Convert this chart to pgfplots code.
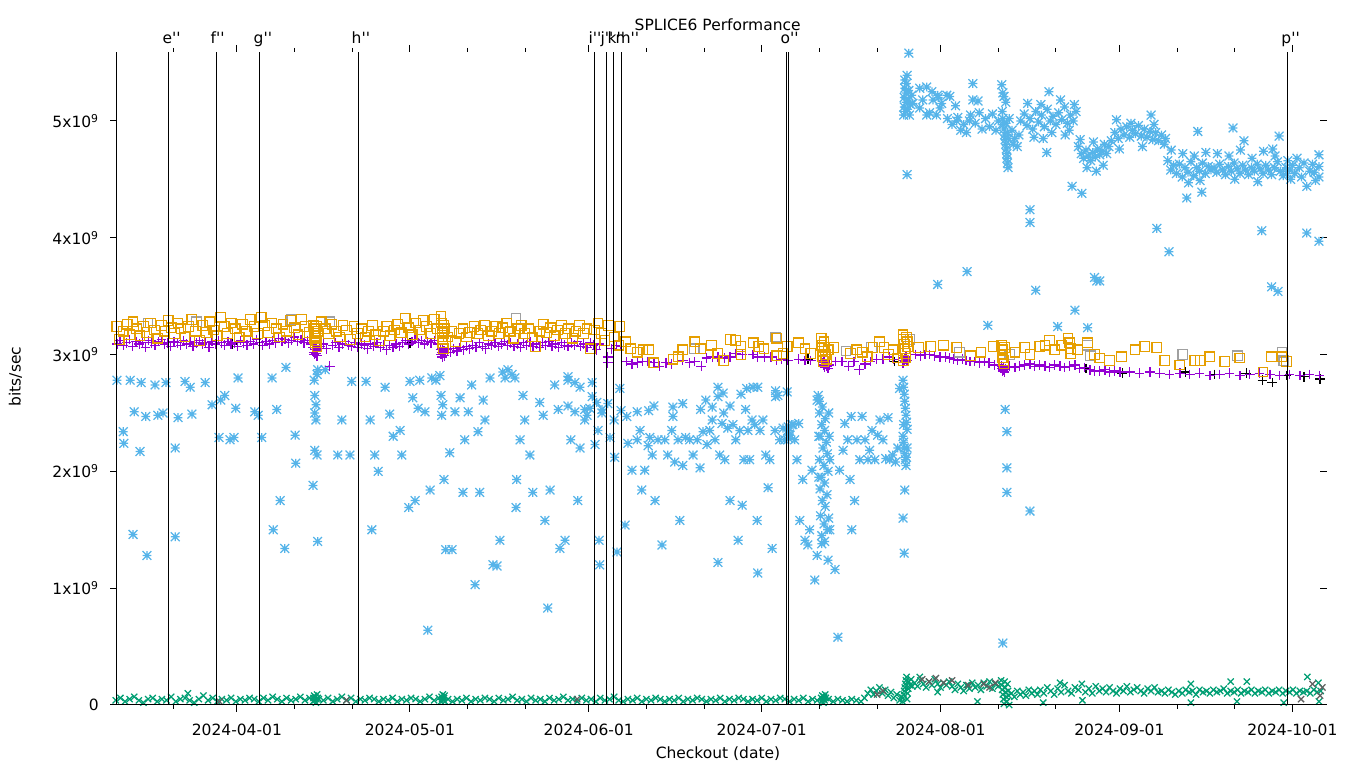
\documentclass[border=0pt]{standalone}
\usepackage{pgfplots}
\pgfplotsset{compat=1.18}
\usepackage{fontspec}
\setmainfont{DejaVu Sans}[Ligatures=TeXOff]
\definecolor{gporange}{HTML}{E69F00}
\definecolor{gppurple}{HTML}{9400D3}
\definecolor{gpblue}{HTML}{56B4E9}
\definecolor{gpgreen}{HTML}{009E73}
\definecolor{gpgray}{HTML}{A0A0A0}
\definecolor{gpdgray}{HTML}{606060}
\pgfdeclareplotmark{star8}{%
  \pgfpathmoveto{\pgfqpoint{-\pgfplotmarksize}{0pt}}\pgfpathlineto{\pgfqpoint{\pgfplotmarksize}{0pt}}%
  \pgfpathmoveto{\pgfqpoint{0pt}{-\pgfplotmarksize}}\pgfpathlineto{\pgfqpoint{0pt}{\pgfplotmarksize}}%
  \pgfpathmoveto{\pgfqpoint{-\pgfplotmarksize}{-\pgfplotmarksize}}\pgfpathlineto{\pgfqpoint{\pgfplotmarksize}{\pgfplotmarksize}}%
  \pgfpathmoveto{\pgfqpoint{-\pgfplotmarksize}{\pgfplotmarksize}}\pgfpathlineto{\pgfqpoint{\pgfplotmarksize}{-\pgfplotmarksize}}%
  \pgfusepathqstroke}
\begin{document}
\fontsize{15.5}{18}\selectfont
\begin{tikzpicture}[x=1pt,y=1pt]
\useasboundingbox (0,0) rectangle (1360,768);
\begin{axis}[
  at={(110pt,63pt)}, anchor=south west,
  scale only axis, width=1217pt, height=653pt,
  xmin=69, xmax=280, ymin=0, ymax=5.59,
  axis line style={draw=none},
  xtick={91,121,152,182,213,244,274},
  xticklabels={2024-04-01,2024-05-01,2024-06-01,2024-07-01,2024-08-01,2024-09-01,2024-10-01},
  minor xtick={80,101,111,131,141,162,172,192,202,223,233,254,264},
  ytick={0,1,2,3,4,5},
  yticklabels={0,{1x10\textsuperscript{9}},{2x10\textsuperscript{9}},{3x10\textsuperscript{9}},{4x10\textsuperscript{9}},{5x10\textsuperscript{9}}},
  xtick align=outside, ytick align=inside,
  major tick length=7pt, minor tick length=4pt,
  every tick/.style={black, line width=1pt},
  tick label style={font=\fontsize{15.5}{18}\selectfont},
  xticklabel style={yshift=-7pt},
  yticklabel style={xshift=-6pt},
  clip mode=individual,
  every axis plot/.append style={only marks, line width=1.25pt},
]
% light blue asterisks
\addplot[gpblue, mark=star8, mark size=4.4pt] coordinates {
(70.2,2.78)(71.3,2.34)(71.4,2.24)(72.5,2.78)(73,1.46)(73.2,2.51)(74.2,2.17)(74.4,2.76)(75.4,1.28)(75.2,2.47)
(76.8,2.74)(77.3,2.48)(78.2,2.5)(78.7,2.76)(80.3,1.44)(80.3,2.2)(80.8,2.46)(82,2.77)(82.9,2.72)(83.2,2.49)
(85.5,2.76)(86.7,2.57)(87.9,2.29)(88.2,2.61)(88.9,2.65)(89.8,2.27)(90.5,2.29)(91.2,2.8)(90.8,2.54)(94.1,2.51)
(94.7,2.48)(95.3,2.29)(97.1,2.8)(97.3,1.5)(97.9,2.53)(98.5,1.75)(99.3,1.34)(99.5,2.89)(101.1,2.31)(101.2,2.07)
(104.2,1.88)(104.5,2.18)(104.5,2.5)(104.7,2.44)(104.9,2.83)(105,1.4)(104.4,2.78)(104.7,2.57)(104.9,2.14)(104.5,2.65)
(105,2.87)(106.3,2.87)(108.5,2.14)(109.2,2.44)(110.6,2.14)(110.9,2.77)(113.4,2.77)(114.1,2.44)(114.4,1.5)(114.9,2.14)
(115.5,2.0)(116.7,2.72)(117.5,2.49)(118.1,2.3)(119.3,2.35)(119.6,2.14)(121,2.77)(120.8,1.69)(121.5,2.63)(121.9,1.75)
(122.4,2.54)(122.7,2.78)(123.6,2.51)(124.1,0.64)(124.5,1.84)(124.8,2.8)(125.5,2.78)(126.2,2.82)(126.4,2.65)(126.5,2.48)
(126.7,2.57)(126.9,1.93)(127.2,1.33)(127.9,2.16)(128.3,1.33)(128.8,2.51)(129.7,2.63)(130.2,1.82)(130.5,2.27)(131.1,2.51)
(131.7,2.74)(132.3,1.03)(132.8,2.34)(133.1,1.82)(133.7,2.61)(134,2.44)(134.9,2.8)(135.4,1.2)(136.1,1.19)(136.6,1.41)
(137.1,2.85)(137.5,2.8)(138,2.87)(138.7,2.83)(139.2,2.8)(139.5,1.93)(139.4,1.69)(140.1,2.27)(140.6,2.65)(140.9,2.44)
(141.8,2.14)(142.3,1.82)(143.5,2.59)(144.1,2.48)(144.4,1.58)(144.9,0.83)(145.3,1.84)(146.1,2.74)(146.7,2.53)(147,1.34)
(147.9,1.41)(148.4,2.78)(148.9,2.27)(149.6,2.51)(150.1,1.75)(150.5,2.2)(151.3,2.44)(151.7,2.48)(152.2,2.54)(153.1,2.23)
(153.6,2.35)(153.8,1.41)(153.9,1.2)(154.3,2.53)
(148.4,2.81)(149.6,2.76)(150.5,2.72)(152.6,2.76)(152.6,2.64)(153.4,2.59)(148.4,2.56)(151.3,2.53)(155.3,2.58)(154.3,2.5)
(157.4,2.71)(156.4,2.44)(158.6,2.47)(160.4,2.51)(162.4,2.52)(163.3,2.56)(166.6,2.55)(166.6,2.47)(168.3,2.58)(171.4,2.53)
(172.3,2.61)(173.4,2.55)(174.4,2.72)(174.4,2.64)(175.3,2.67)(175.4,2.5)(176.5,2.56)(178.4,2.66)(179.4,2.71)(180.5,2.72)
(181.3,2.72)(184.4,2.69)(184.4,2.64)(186.4,2.68)(187.4,2.4)(188.4,2.41)(191.6,2.61)
(155.7,2.29)(156.5,2.12)(156.9,1.31)(157.6,2.52)(158.3,1.54)(158.8,2.24)(159.5,2.01)(160.4,2.27)(160.9,2.35)(161.2,1.84)
(161.7,2.01)(162.3,2.22)(162.6,2.29)(163,2.14)(163.5,1.75)(164,2.27)(164.7,1.37)(165.2,2.27)(165.7,2.14)(166.4,2.35)
(166.9,2.08)(167.5,2.27)(167.8,1.58)(168.3,2.05)(168.8,2.29)(169.5,2.27)(170.1,2.14)(170.8,2.27)(171.3,2.03)(171.8,2.34)
(172.5,2.23)(173,2.35)(173.4,2.44)(173.9,2.27)(174.4,1.22)(174.7,2.14)(175.1,2.41)(175.6,2.1)(176.1,2.37)(176.5,1.75)
(177,2.4)(177.5,2.27)(177.9,1.41)(178.2,2.35)(178.6,1.71)(178.9,2.1)(179.2,2.53)(179.6,2.35)(179.9,2.1)(180.3,2.44)
(180.8,2.4)(181.2,1.58)(181.3,1.13)(181.7,2.35)(182.2,2.44)(182.7,2.14)(183.1,1.86)(183.4,2.1)(183.8,1.34)(184.3,2.35)
(184.8,2.65)(185.1,2.27)(185.7,2.37)(186,2.27)(186.5,2.35)(186.9,2.31)(187.2,2.4)(187.7,2.27)(188.1,2.1)(188.6,1.58)
(189.1,1.93)(189.5,1.41)(190,1.37)(190.3,1.5)(190.7,2.01)(191.2,1.07)(191.6,1.28)(186.6,2.38)(186.8,2.32)(186.7,2.28)
(191.8,2.65)(192,2.6)(192.5,2.55)(192.0,2.5)(193.0,2.45)(192.4,2.4)(192.9,2.35)(192.1,2.3)(193.2,2.25)(192.6,2.2)
(193.4,2.15)(192.0,2.1)(192.8,2.05)(193.5,2.0)(192.3,1.95)(192.9,1.9)(192.1,1.85)(193.3,1.8)(192.5,1.75)(193.0,1.7)
(192.2,1.62)(192.8,1.55)(193.4,1.5)(192.4,1.45)(192.9,1.4)(193.6,2.5)(193.7,2.3)(193.8,2.1)(191.9,2.3)(191.9,1.95)
(193.6,1.6)(192.4,1.38)(193.5,1.24)(193.8,1.5)(194.7,1.16)(195.2,0.58)(195.5,2.01)(196.1,2.18)(196.9,2.27)(197.3,1.93)
(197.6,1.5)(198.1,1.75)(198.5,2.27)(199,2.1)(199.4,2.47)(199.9,2.27)(200.4,2.1)(200.7,2.18)(201.1,2.35)(201.6,2.1)
(202.1,2.31)(202.5,2.44)(203,2.27)(203.5,2.11)(204.2,2.1)(204.7,2.14)(205.2,2.08)(205.6,2.2)(196.4,2.41)(197.5,2.47)
(203.9,2.46)(205.9,2.71)
(206.5,2.78)(206.6,2.72)(206.7,2.66)(206.8,2.6)(206.9,2.54)(207,2.48)(207.1,2.42)(207.2,2.36)(206.5,2.3)(206.6,2.25)
(206.7,2.2)(206.8,2.15)(206.9,2.1)(207,2.05)(207.1,2.12)(207.2,2.2)(206.7,1.3)(206.5,1.6)(206.8,1.84)(206.6,2.4)
(206.6,5.05)(206.7,5.12)(206.7,5.2)(206.8,5.28)(206.8,5.35)(206.9,5.08)(207,5.16)(207,5.24)(207.1,5.32)(207.2,5.39)
(207.3,5.1)(207.4,5.18)(207.5,5.26)(207.6,5.05)(207.8,5.14)(208,5.22)(207.2,4.54)(207.5,5.58)
(209.4,5.28)(210.6,5.29)(211.5,5.25)(212.5,5.22)(213.2,5.15)(212.9,5.11)(214.1,5.22)(214.6,5.21)(208.2,5.15)(209.9,5.18)
(211.1,5.07)(212.3,5.05)(210.6,5.05)(209.4,5.11)(211.7,5.18)(212.6,5.2)(215.6,5.13)
(214.2,5.02)(215,4.97)(215.8,5.0)(216.5,4.92)(217,4.97)(217.5,4.9)(218,5.0)(216,5.03)
(218.6,5.32)(218.6,5.18)(219.5,5.17)
(218.2,5.05)(219,4.98)(219.7,5.07)(220.2,4.93)(220.8,5.02)(221.5,4.95)(222,5.06)(222.6,4.92)(223,5.0)
(223.6,5.31)(223.8,5.24)(224,5.21)(224.3,5.16)
(223.7,5.08)(223.8,5.02)(223.9,4.97)(224,4.93)(224.1,4.88)(224.2,4.84)(224.3,4.8)(224.4,4.76)(224.5,4.72)(224.5,4.68)
(224.6,4.64)(224.7,4.6)(224.4,4.98)(224.6,4.9)(224.8,4.85)(224.9,5.02)
(225.4,4.92)(225.8,4.85)(226.3,4.78)(226.6,4.88)(225.6,4.8)
(226.9,5.0)(227.5,5.06)(228,4.96)(228.5,5.02)(229,4.93)(229.5,5.08)(230,4.99)(230.5,5.05)(231,4.95)(231.5,5.1)
(232,5.0)(232.5,5.04)(233,4.97)(233.5,5.07)(234,5.01)(234.5,5.12)(235,4.98)(235.5,5.05)(236,5.0)(236.5,5.08)
(231.8,5.25)(230.4,5.14)(233.8,5.18)(236.2,5.14)(229.2,4.86)(232.3,4.9)(235.3,4.92)(228.1,5.15)(230.8,4.85)(234.6,4.88)
(228.5,4.24)(228.5,4.13)(231.4,4.73)(235.8,4.44)(237.5,4.38)
(236.9,4.78)(237.4,4.72)(237.8,4.68)(238.2,4.75)(238.6,4.7)(239,4.66)(239.4,4.73)(239.8,4.69)(240.2,4.76)(240.6,4.71)
(241,4.74)(241.4,4.8)(241.8,4.72)(242.2,4.78)(242.6,4.83)(238.4,4.6)(240,4.57)(241.2,4.62)(237.2,4.84)(239.5,4.82)
(243.5,5.01)
(243.2,4.9)(243.8,4.85)(244.3,4.93)(244.8,4.88)(245.3,4.95)(245.8,4.86)(246.3,4.92)(246.8,4.89)(247.3,4.96)(247.8,4.87)
(248.3,4.93)(248.8,4.86)(249.3,4.91)(249.8,4.84)(250.3,4.9)(250.8,4.83)(251.3,4.88)(251.8,4.8)(244,4.76)(246,4.98)
(248,4.78)(250,4.97)(252,4.85)
(249.5,5.05)(250.5,4.08)(252.6,3.88)(217.6,3.71)(239.7,3.66)
(252.4,4.66)(252.9,4.58)(253.4,4.62)(253.9,4.55)(254.4,4.63)(254.9,4.52)(255.4,4.6)(255.9,4.56)(256.4,4.65)(256.9,4.53)
(257.4,4.6)(257.9,4.57)(258.4,4.64)(258.9,4.55)(259.4,4.61)(259.9,4.58)(253,4.75)(255,4.72)(257,4.7)(259,4.73)
(256,4.47)(258,4.49)
(255.7,4.34)(258.3,4.39)(257.6,4.91)(263.7,4.94)(265.6,4.83)(271.7,4.87)
(260.4,4.6)(260.9,4.56)(261.4,4.63)(261.9,4.58)(262.4,4.54)(262.9,4.61)(263.4,4.57)(263.9,4.64)(264.4,4.59)(264.9,4.55)
(265.4,4.62)(265.9,4.58)(266.4,4.54)(266.9,4.6)(267.4,4.57)(267.9,4.63)(268.4,4.59)(268.9,4.55)(269.4,4.62)(269.9,4.58)
(270.4,4.54)(270.9,4.6)(271.4,4.65)(271.9,4.57)(272.4,4.53)(272.9,4.6)(261,4.72)(263,4.7)(265,4.75)(267,4.68)
(269,4.74)(271,4.7)(273,4.55)(264,4.5)(268,4.48)(270.6,4.76)
(268.7,4.06)(276.5,4.04)(278.6,3.97)
(273.2,4.66)(273.5,4.58)(273.7,4.5)(274,4.62)(274.4,4.55)(274.8,4.68)(275.2,4.6)(275.6,4.52)(276,4.64)(276.5,4.44)
(277,4.57)(277.5,4.63)(278,4.49)(278.6,4.71)(278.6,4.61)(278.6,4.52)(277.8,4.56)
(212.5,3.6)(221.2,3.25)(229.5,3.55)(233.3,3.24)(236.3,3.38)(240.1,3.63)(240.6,3.63)(238.5,3.23)(270.4,3.58)(271.5,3.54)
(223.8,0.53)(224.2,2.53)(224.5,2.34)(224.5,2.03)(224.5,1.82)(228.5,1.66)
};
% green crosses
\addplot[gpgreen, mark=x, mark size=4.4pt] coordinates {
(70,.04)(70.8,.06)(71.6,.03)(72.4,.05)(73.2,.07)(74,.04)(74.8,.02)(75.6,.05)(76.4,.06)(77.2,.03)
(78,.05)(78.8,.04)(79.6,.07)(80.4,.03)(81.2,.05)(82,.06)(82.5,.1)(82.8,.04)(83.6,.02)(84.4,.05)(85.2,.08)
(86,.04)(86.8,.06)(87.6,.03)(88.4,.05)(89.2,.04)(90,.06)(90.8,.03)(91.6,.05)(92.4,.04)(93.2,.06)
(94,.05)(94.8,.03)(95.6,.06)(96.4,.04)(97.2,.07)(98,.05)(98.8,.03)(99.6,.06)(100.4,.04)(101.2,.05)
(102,.07)(102.8,.04)(103.6,.06)(104.2,.03)(104.3,.06)(104.4,.08)(104.5,.04)(104.6,.07)(104.7,.02)(104.8,.05)
(104.9,.09)(105,.06)(105.2,.05)(106,.04)(106.8,.06)(107.6,.03)(108.4,.05)(109.2,.07)(110,.04)(110.8,.06)
(111.6,.03)(112.4,.05)(113.2,.04)(114,.06)(114.8,.05)(115.6,.03)(116.4,.05)(117.2,.04)(118,.06)(118.8,.03)
(119.6,.05)(120.4,.04)(121.2,.06)(122,.05)(122.8,.03)(123.6,.05)(124.4,.07)(125.2,.04)(126,.06)(126.4,.03)
(126.5,.07)(126.6,.05)(126.7,.09)(126.8,.04)(126.9,.06)(127,.08)(127.1,.03)(127.6,.05)(128.4,.03)(129.2,.05)
(130,.04)(130.8,.06)(131.6,.03)(132.4,.05)(133.2,.04)(134,.06)(134.8,.05)(135.6,.03)(136.4,.06)(137.2,.04)
(138,.05)(138.8,.07)(139.6,.04)(140.4,.05)(141.2,.03)(142,.06)(142.8,.04)(143.6,.05)(144.4,.03)(145.2,.06)
(146,.04)(146.8,.05)(147.6,.07)(148.4,.04)(149.2,.05)(150,.03)(150.8,.06)(151.6,.04)(152.4,.05)(153.2,.03)
(154,.06)(154.8,.04)(155.6,.05)(156.4,.07)(157.2,.04)(158,.03)(158.8,.05)(159.6,.04)(160.4,.06)(161.2,.03)
(162,.05)(162.8,.04)(163.6,.06)(164.4,.05)(165.2,.03)(166,.05)(166.8,.04)(167.6,.06)(168.4,.03)(169.2,.05)
(170,.04)(170.8,.06)(171.6,.05)(172.4,.03)(173.2,.05)(174,.04)(174.8,.06)(175.6,.03)(176.4,.05)(177.2,.04)
(178,.06)(178.8,.05)(179.6,.03)(180.4,.05)(181.2,.04)(182,.06)(182.8,.03)(183.6,.05)(184.4,.04)(185.2,.06)
(186,.05)(186.8,.03)(187.6,.05)(188.4,.04)(189.2,.06)(190,.03)(190.8,.05)(191.6,.04)(192.3,.06)(192.4,.03)
(192.5,.08)(192.6,.05)(192.7,.02)(192.8,.07)(192.9,.04)(193,.09)(193.1,.06)(193.6,.05)(194.4,.03)(195.2,.05)
(196,.04)(196.8,.03)(197.6,.05)(198.4,.04)(199.2,.03)
(199.8,.06)(200.4,.1)(200.9,.13)(201.4,.09)(201.9,.12)(202.4,.15)(202.9,.1)(203.4,.13)(203.9,.08)(204.4,.11)
(204.9,.06)(205.4,.09)(205.9,.04)(206.2,.07)
(206.4,.03)(206.5,.06)(206.6,.09)(206.7,.12)(206.8,.15)(206.9,.18)(207,.21)(207.1,.24)(207.2,.05)(207.3,.1)
(207.4,.14)(207.5,.2)(207.7,.17)(207.9,.22)(208.1,.16)
(208.5,.19)(209,.16)(209.5,.21)(210,.18)(210.5,.15)(211,.2)(211.5,.17)(212,.22)(212.5,.18)(213,.15)
(213.5,.19)(214,.17)(214.5,.2)(215,.16)(215.5,.13)(216,.18)(216.5,.15)(217,.12)(217.5,.17)(218,.14)
(218.5,.19)(219,.15)(219.5,.17)(220,.13)(220.5,.19)(221,.16)(221.5,.2)(222,.14)(222.5,.18)(223,.16)
(223.5,.21)(223.6,.17)(223.7,.13)(223.8,.09)(223.9,.05)(224,.01)(224.1,.2)(224.2,.15)(224.3,.11)(224.4,.07)
(224.5,.03)(224.6,.18)(224.7,.12)(224.8,.08)(224.9,.0)
(225.3,.1)(225.8,.07)(226.3,.12)(226.8,.09)(227.3,.11)(227.8,.08)(228.3,.13)(228.8,.1)(229.3,.12)(229.8,.09)
(230.3,.13)(230.9,.1)(231.5,.15)(232.1,.12)(232.7,.09)(233.3,.14)(233.9,.11)(234.5,.17)(235.1,.12)(235.7,.1)
(236.3,.15)(236.9,.13)(237.5,.18)(238.1,.11)(238.7,.14)(239.3,.1)(239.9,.16)(240.5,.12)(241.1,.14)(241.7,.11)
(242.3,.15)(242.9,.12)(243.5,.1)(244.1,.14)(244.7,.12)(245.3,.16)(245.9,.11)(246.5,.13)(247.1,.15)(247.7,.12)
(248.3,.1)(248.9,.14)(249.5,.12)(250.1,.15)(250.7,.11)
(251.3,.12)(251.9,.1)(252.5,.13)(253.1,.11)(253.7,.09)(254.3,.12)(254.9,.1)(255.5,.13)(256.1,.11)(256.7,.12)
(257.3,.09)(257.9,.13)(258.5,.11)(259.1,.12)(259.7,.1)(260.3,.13)(260.9,.11)(261.5,.12)(262.1,.14)(262.7,.1)
(263.3,.12)(263.9,.11)(264.5,.13)(265.1,.1)(265.7,.12)(266.3,.11)(266.9,.13)(267.5,.1)(268.1,.12)(268.7,.11)
(269.3,.13)(269.9,.1)(270.5,.12)(271.1,.11)(271.7,.13)(272.3,.1)(272.9,.12)(273.5,.11)(274.1,.13)(274.7,.1)
(275.3,.12)(275.9,.11)(276.5,.12)(277.1,.1)(277.7,.13)(278.3,.11)(278.9,.12)
(276.6,.24)(278.5,.19)(278.6,.03)(272.5,.02)(263.3,.2)(266.1,.2)(256.4,.18)(264.4,.03)(256.4,.02)(237.6,.04)
(233.7,.19)(230.8,.02)(219.4,.03)(209.4,.24)(212.5,.11)
};
% dark gray crosses
\addplot[gpdgray, mark=x, mark size=4.4pt] coordinates {
(209.8,.22)(211,.2)(212.2,.23)(213.5,.19)(215,.21)(217.8,.17)(220.5,.18)(221.5,.15)(222.5,.19)(202,.09)
(203,.12)(275.5,.05)(277.5,.18)(278.8,.08)(279.2,.15)(88,.03)(110,.04)(150,.05)
};
% black plus
\addplot[black, mark=+, mark size=4.8pt] coordinates {
(90.3,3.09)(121,3.1)(190,2.96)(205,2.94)(238.2,2.88)(244.5,2.84)(255.5,2.85)(260.5,2.83)(266,2.84)(268.8,2.78)
(270.5,2.76)(273,2.82)(276,2.81)(278.8,2.79)
};
% purple plus
\addplot[gppurple, mark=+, mark size=4.8pt] coordinates {
(70.2,3.09)(70.75,3.12)(71.3,3.08)(71.85,3.1)(72.4,3.13)(72.95,3.07)(73.5,3.11)(74.05,3.09)(74.6,3.1)(75.15,3.06)
(75.7,3.12)(76.25,3.1)(76.8,3.08)(77.35,3.11)(77.9,3.13)(78.45,3.09)(79,3.1)(79.55,3.07)(80.1,3.11)(80.65,3.1)
(81.2,3.08)(81.75,3.12)(82.3,3.09)(82.85,3.11)(83.4,3.07)(83.95,3.1)(84.5,3.12)(85.05,3.09)(85.6,3.1)(86.15,3.06)
(86.7,3.11)(87.25,3.09)(87.8,3.12)(88.35,3.1)(88.9,3.08)(89.45,3.11)(90,3.09)(90.55,3.1)(91.1,3.07)(91.65,3.12)
(92.2,3.1)(92.75,3.08)(93.3,3.11)(93.85,3.09)(94.4,3.13)(94.95,3.1)(95.5,3.08)(96.05,3.11)(96.6,3.09)(97.15,3.12)
(97.7,3.1)(98.25,3.14)(98.8,3.11)(99.35,3.13)(99.9,3.1)(100.45,3.12)(101,3.15)(101.55,3.11)(102.1,3.13)(102.65,3.1)
(103.2,3.12)(103.75,3.09)(104.2,3.06)(104.3,3.02)(104.4,3.0)(104.5,3.04)(104.6,3.08)(104.7,3.01)(104.8,3.05)(104.9,2.99)
(105,3.03)(105.5,3.07)(106,3.09)(106.55,3.05)(107.1,2.9)(107.6,3.08)(108.15,3.1)(108.7,3.06)(109.25,3.09)(109.8,3.11)
(110.35,3.08)(110.9,3.07)(111.45,3.1)(112,3.06)(112.55,3.09)(113.1,3.08)(113.65,3.05)(114.2,3.09)(114.75,3.07)(115.3,3.1)
(115.85,3.06)(116.4,3.08)(116.95,3.04)(117.5,3.08)(118.05,3.06)(118.6,3.09)(119.15,3.07)(119.7,3.1)(120.25,3.12)(120.8,3.09)
(121.35,3.11)(121.9,3.13)(122.45,3.1)(123,3.12)(123.55,3.09)(124.1,3.11)(124.65,3.1)(125.2,3.12)(125.75,3.09)(126.3,3.04)
(126.4,3.0)(126.5,3.02)(126.6,2.98)(126.7,3.05)(126.8,3.01)(126.9,3.03)(127,2.99)(127.5,3.04)(128.05,3.02)(128.6,3.05)
(129.15,3.03)(129.7,3.06)(130.25,3.04)(130.8,3.07)(131.35,3.05)(131.9,3.08)(132.45,3.06)(133,3.1)(133.55,3.07)(134.1,3.05)
(134.65,3.09)(135.2,3.08)(135.75,3.1)(136.3,3.07)(136.85,3.09)(137.4,3.11)(137.95,3.08)(138.5,3.1)(139.05,3.07)(139.6,3.09)
(140.15,3.06)(140.7,3.1)(141.25,3.08)(141.8,3.11)(142.35,3.07)(142.9,3.09)(143.45,3.06)(144,3.1)(144.55,3.08)(145.1,3.11)
(145.65,3.07)(146.2,3.09)(146.75,3.06)(147.3,3.1)(147.85,3.08)(148.4,3.07)(148.95,3.1)(149.5,3.08)(150.05,3.11)(150.6,3.07)
(151.15,3.09)(151.7,3.06)(152.25,3.1)(152.8,3.08)(153.35,3.04)(153.9,3.09)(155.3,2.98)(155.3,2.93)(156,3.05)(156.8,3.08)
(157.6,3.07)(158.5,2.94)(159.5,2.92)(160.4,2.93)(161.3,2.94)(162.2,2.94)(163.3,2.93)(164.3,2.9)(165.4,2.93)(166.4,2.92)
(168.3,2.95)(169.5,2.93)(170.4,2.94)(171.5,2.9)(172.4,2.97)(173.4,2.98)(174.4,2.98)(175.6,2.97)(176.5,2.98)(177.5,3.01)
(178.6,3.0)(180.5,3.0)(181.3,2.98)(182.5,2.98)(183.6,2.98)(184.6,2.95)(185.4,2.96)(186.5,2.95)(188.4,2.96)(189.5,2.95)
(190.5,2.95)(192.5,2.93)(192.7,2.91)(192.9,2.89)(193.1,2.92)(193.3,2.9)(193.5,2.88)(193.7,2.91)(192.8,2.95)(194.8,2.94)
(195.9,2.94)(197.1,2.9)(198,2.94)(198.9,2.87)(199.9,2.92)(200.8,2.94)(201.9,2.96)(203,2.96)(204.1,2.98)(204.9,2.96)
(206.5,2.93)(206.6,2.95)(206.7,2.97)(206.8,2.94)(206.9,2.96)(207,2.98)(207.2,2.95)(208.6,3.0)(209.5,2.99)(210.3,3.0)
(211.1,3.0)(212,2.99)(212.9,2.98)(213.8,2.98)(214.6,2.97)(215.3,2.96)(216,2.95)(216.8,2.96)(217.4,2.95)(218.1,2.94)
(218.9,2.94)(219.7,2.93)(220.6,2.94)(221.4,2.93)(222.4,2.91)(223,2.91)(223.6,2.9)(223.7,2.88)(223.8,2.86)(223.9,2.89)
(224,2.87)(224.1,2.85)(224.2,2.88)(225,2.9)(225.9,2.89)(226.7,2.9)(227.6,2.91)(228.5,2.92)(229.3,2.9)(230.2,2.91)
(231.1,2.9)(231.9,2.89)(232.8,2.91)(233.7,2.9)(234.5,2.89)(235.4,2.9)(236.3,2.91)(237.1,2.88)(238,2.89)(238.9,2.87)
(239.7,2.86)(240.6,2.86)(241.5,2.87)(242.3,2.85)(243.2,2.86)(244.1,2.85)(245.8,2.85)(247.5,2.84)(249.3,2.85)(251,2.84)
(252.7,2.83)(254.5,2.84)(256.2,2.83)(257.9,2.84)(259.7,2.82)(261.4,2.83)(263.1,2.84)(264.9,2.82)(266.6,2.83)(268.3,2.84)
(270.1,2.83)(271.8,2.82)(273.5,2.83)(275.3,2.82)(277,2.83)(278.7,2.82)
};
% gray squares
\addplot[gpgray, mark=square, mark size=4.8pt] coordinates {
(75.6,3.27)(84,3.28)(100.5,3.3)(107.1,3.28)(139.4,3.31)(170.3,3.05)(184.4,3.15)(196.6,3.03)(201,3.06)(207.7,3.13)
(216.3,3.02)(225,3.0)(238.5,3.08)(239,2.99)(255,3.0)(264.5,2.99)(272.2,3.02)(272.5,2.95)
};
% orange squares
\addplot[gporange, mark=square, mark size=4.8pt] coordinates {
(70.2,3.24)(70.6,3.13)(71.3,3.2)(72,3.26)(72.4,3.17)(73,3.28)(73.6,3.22)(74.2,3.16)(74.8,3.24)(75.4,3.19)
(76,3.27)(76.7,3.21)(77.3,3.14)(77.9,3.25)(78.5,3.2)(79.1,3.29)(79.6,3.23)(80.2,3.18)(80.8,3.27)(81.3,3.22)
(82,3.15)(82.6,3.24)(83.2,3.3)(83.8,3.2)(84.5,3.12)(85.1,3.25)(85.7,3.19)(86.3,3.28)(87,3.21)(87.6,3.16)
(88.2,3.32)(88.8,3.24)(89.4,3.18)(90,3.27)(90.7,3.22)(91.4,3.15)(92,3.26)(92.6,3.2)(93.3,3.3)(94,3.24)
(94.6,3.18)(95.2,3.32)(95.8,3.25)(96.5,3.19)(97.1,3.27)(97.8,3.22)(98.4,3.15)(99,3.26)(99.6,3.2)(100.3,3.29)
(101,3.23)(101.6,3.17)(102.2,3.3)(102.9,3.24)(103.5,3.19)(104.3,3.25)(104.4,3.22)(104.5,3.18)(104.5,3.14)(104.6,3.1)
(104.6,3.2)(104.7,3.16)(104.8,3.24)(104.8,3.12)(104.9,3.07)(105,3.2)(105.6,3.28)(106.3,3.22)(106.9,3.18)(107.5,3.26)
(108.2,3.2)(108.8,3.15)(109.4,3.25)(110,3.21)(110.7,3.13)(111.3,3.24)(111.9,3.18)(112.6,3.22)(113.2,3.15)(113.8,3.2)
(114.5,3.25)(115.1,3.17)(115.7,3.12)(116.4,3.2)(117,3.24)(117.6,3.16)(118.3,3.21)(118.9,3.26)(119.5,3.19)(120.2,3.31)
(120.8,3.23)(121.4,3.17)(122,3.27)(122.7,3.21)(123.3,3.29)(123.9,3.24)(124.6,3.18)(125.2,3.3)(125.8,3.22)(126.4,3.33)
(126.5,3.27)(126.6,3.2)(126.6,3.15)(126.7,3.1)(126.8,3.25)(126.8,3.05)(126.9,3.18)(127,3.22)(127.6,3.15)(128.3,3.2)
(128.9,3.11)(129.5,3.18)(130.2,3.22)(130.8,3.15)(131.4,3.19)(132.1,3.24)(132.7,3.18)(133.3,3.21)(134,3.25)(134.6,3.16)
(135.2,3.2)(135.9,3.24)(136.5,3.18)(137.1,3.23)(137.8,3.27)(138.4,3.2)(139,3.14)(139.7,3.22)(140.3,3.25)(140.9,3.18)
(141.6,3.22)(142.2,3.15)(142.8,3.07)(143.5,3.2)(144.1,3.26)(144.7,3.19)(145.4,3.23)(146,3.16)(146.6,3.21)(147.3,3.25)
(147.9,3.18)(148.5,3.22)(149.2,3.14)(149.8,3.2)(150.4,3.25)(151.1,3.18)(151.7,3.22)(152.3,3.05)(153,3.21)(153.6,3.27)
(154.2,3.18)(154.8,3.12)(155.4,3.25)(156.4,3.15)(157.2,3.08)(157.4,3.24)
(158.4,3.11)(159.3,3.05)(160.4,3.02)(161.4,3.04)(162.4,3.04)(163.3,2.93)(166.6,2.96)(167.5,2.98)(168.3,3.04)(170.4,3.11)
(171.4,3.05)(173.3,3.08)(174.4,3.01)(175.4,2.95)(176.6,3.13)(177.5,3.12)(178.4,3.07)(178.4,3.0)(180.5,3.1)(181.5,3.07)
(182.4,3.05)(184.6,3.14)(184.6,2.99)(185.7,3.01)(186.4,3.07)(188.4,3.1)(189.5,3.05)(190.5,3.01)
(192.3,3.14)(192.4,3.08)(192.5,3.03)(192.6,2.98)(192.7,2.94)(192.8,3.11)(192.9,3.06)(193,3.0)(193.2,2.96)(193.5,3.04)
(194.5,3.06)(197.4,3.01)(198.5,3.04)(199.4,3.02)(200.3,2.98)(201.3,3.06)(202.4,3.11)(203.2,3.06)(204,3.0)(204.8,3.04)
(205.5,2.97)(206.5,3.17)(206.6,3.13)(206.7,3.09)(206.8,3.05)(206.9,3.01)(207,2.97)(207.1,3.15)(207.2,3.11)(207.3,3.07)
(206.6,2.95)(209.2,3.06)(211.3,3.07)(213.5,3.08)(215.8,3.06)(218.2,2.99)(220,3.02)(222.2,3.07)
(223.6,3.08)(223.7,3.04)(223.8,3.0)(223.9,2.95)(224,2.92)(224.1,3.06)(223.7,2.97)
(225.9,3.02)(227.6,3.06)(228.5,3.0)(230.2,3.07)(231.1,3.08)(231.9,3.12)(232.8,3.04)(234,3.08)(235.1,3.14)(235.4,3.1)
(235.5,3.05)(235.6,3.01)(236.8,3.04)(238.5,3.1)(239.7,3.0)(240.6,2.97)(242.3,2.95)(244.4,2.98)(246.7,3.04)(248.4,3.07)
(250.5,3.06)(251.9,2.95)(254.5,2.91)(257.1,2.95)(258,2.95)(259.7,2.98)(262.3,2.94)(264.9,2.97)(268.9,2.85)(270.4,2.98)
(272.2,2.98)(273,2.94)
};
% event lines
\addplot[ycomb, black, line width=1pt, mark=none] coordinates {
(70.2,5.59)(79.2,5.59)(87.55,5.59)(95.0,5.59)(112.0,5.59)(153.07,5.59)(155.15,5.59)(156.36,5.59)(157.75,5.59)(186.35,5.59)(186.7,5.59)(273.2,5.59)
};
\draw[black, line width=1pt] (rel axis cs:0,0) -- (rel axis cs:1,0);
\foreach \xx/\lab in {79.2/e'',87.55/f'',95.0/g'',112.0/h'',153.07/i'',155.15/j'',156.36/k'',157.75/m'',186.35/o'',273.2/p''}{
  \edef\temp{\noexpand\node[anchor=base west, inner sep=0pt, xshift=-6.5pt, yshift=8pt] at (axis cs:\xx,5.59) {\lab};}
  \temp
}
\end{axis}
\node[anchor=base] at (717.7,737.5) {SPLICE6 Performance};
\node[anchor=base] at (718,9.5) {Checkout (date)};
\node[anchor=base, rotate=90] at (20.5,391.5) {bits/sec};
\end{tikzpicture}
\end{document}
